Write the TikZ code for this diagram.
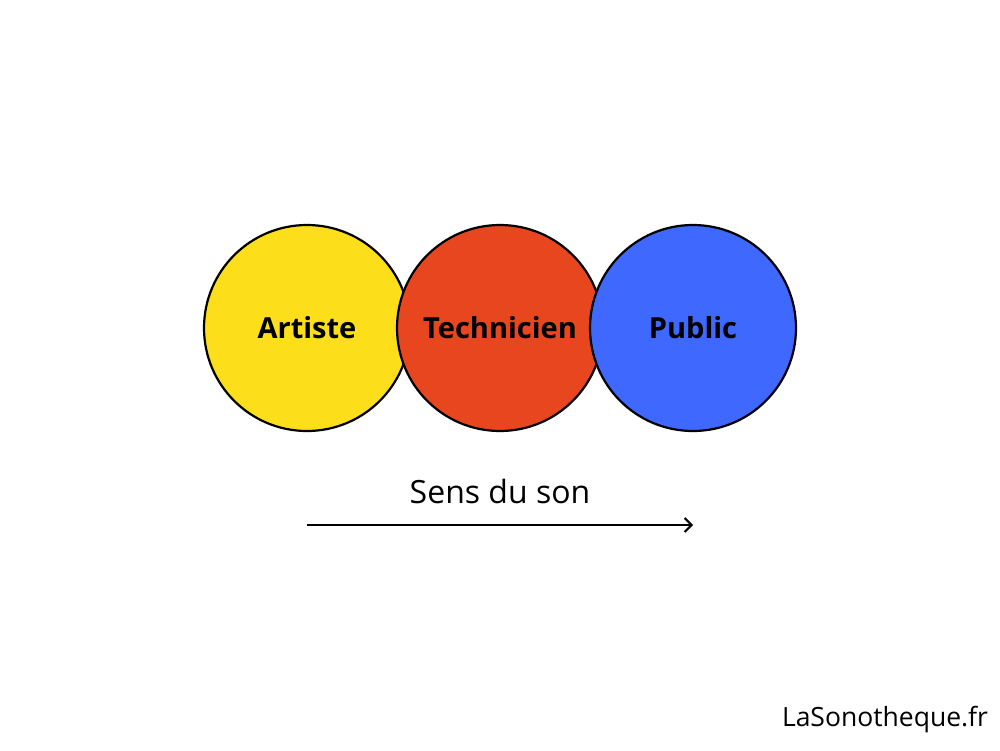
\documentclass[tikz,border=0pt]{standalone}
\usepackage{fontspec}
\setmainfont{Open Sans}
\usetikzlibrary{arrows.meta}
\definecolor{cyellow}{HTML}{FDDE1A}
\definecolor{cred}{HTML}{E8461E}
\definecolor{cblue}{HTML}{3F68FE}
\begin{document}
\begin{tikzpicture}[x=1pt,y=-1pt,
  bubble/.style={circle,draw=black,line width=2.2pt,minimum size=206pt,inner sep=0pt,font=\fontsize{29}{33}\selectfont\bfseries},
  lbl/.style={font=\fontsize{32}{36}\selectfont}]
\useasboundingbox (0,0) rectangle (1000,750);
\node[bubble,fill=cyellow] (art) at (307,328) {Artiste};
\node[bubble,fill=cred] (tech) at (500,328) {Technicien};
\node[bubble,fill=cblue] (pub) at (693,328) {Public};
\node[lbl] (sens) at (500,491) {Sens du son};
\coordinate (a0) at (307,525);
\coordinate (a1) at (693,525);
\draw[line width=2pt,-{Straight Barb[length=7pt,width=14pt]}] (a0) -- (a1);
\node[font=\fontsize{26.5}{30}\selectfont] (site) at (885,720) {LaSonotheque.fr};
\end{tikzpicture}
\end{document}
